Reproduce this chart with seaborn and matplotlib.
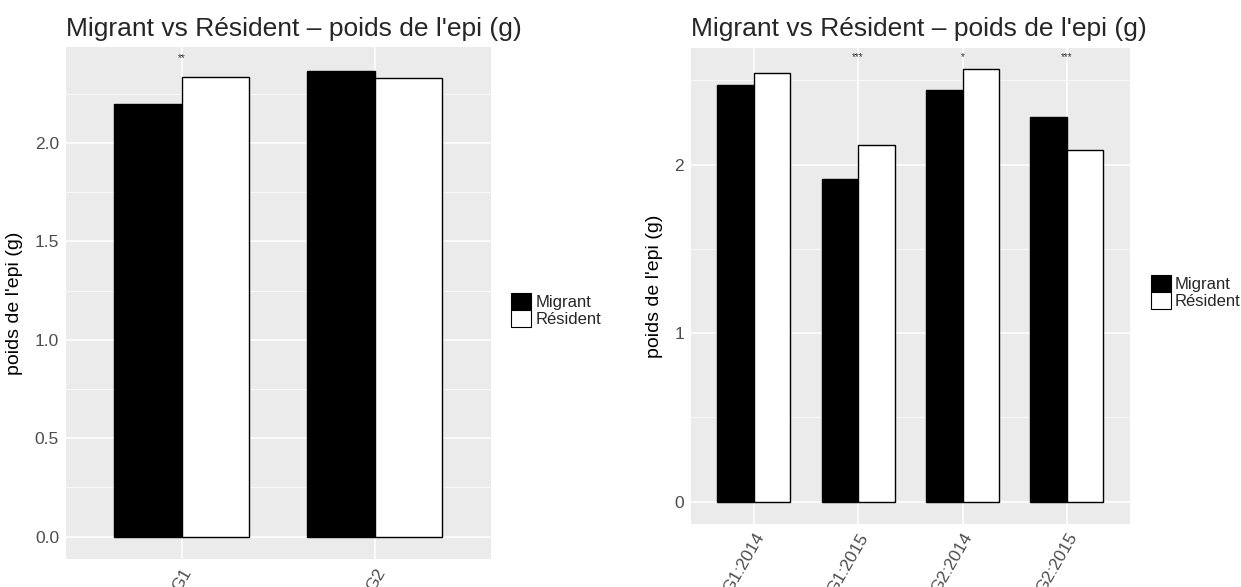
import numpy as np
import pandas as pd
import matplotlib
matplotlib.use("Agg")
import matplotlib.pyplot as plt
import seaborn as sns
from matplotlib.patches import Patch
from matplotlib.ticker import MultipleLocator

# ---- data ----
groups_left = ["G1", "G2"]
migrant_left = [2.200, 2.368]
resident_left = [2.334, 2.332]
signif_left = ["**", ""]

groups_right = ["G1:2014", "G1:2015", "G2:2014", "G2:2015"]
migrant_right = [2.472, 1.914, 2.441, 2.282]
resident_right = [2.542, 2.116, 2.565, 2.087]
signif_right = ["", "***", "*", "***"]

types = ["Migrant", "Résident"]
title = "Migrant vs Résident \u2013 poids de l'epi (g)"
ylabel = "poids de l'epi (g)"

sns.set_theme(style="darkgrid", rc={
    "axes.facecolor": "#EBEBEB",
    "grid.color": "white",
    "axes.edgecolor": "none",
})
plt.rcParams["font.family"] = ["Liberation Sans", "DejaVu Sans"]

W, H = 1241, 587
fig = plt.figure(figsize=(W / 100, H / 100), dpi=100)


def px_axes(x0, y0, x1, y1):
    return fig.add_axes([x0 / W, 1 - y1 / H, (x1 - x0) / W, (y1 - y0) / H])


def draw(ax, groups, mig, res, sig, ylim, major, minor, fmt, sig_y, ylab_x):
    df = pd.DataFrame({
        "group": groups * 2,
        "type": [types[0]] * len(groups) + [types[1]] * len(groups),
        "value": list(mig) + list(res),
    })
    sns.barplot(data=df, x="group", y="value", hue="type", hue_order=types,
                palette=["black", "white"], edgecolor="black", linewidth=1.0,
                width=0.7, gap=0, ax=ax, legend=False, saturation=1,
                errorbar=None)
    n = len(groups)
    ax.set_xlim(-0.6, n - 1 + 0.6)
    ax.set_ylim(*ylim)
    ax.yaxis.set_major_locator(MultipleLocator(major))
    ax.yaxis.set_minor_locator(MultipleLocator(minor))
    ax.yaxis.set_major_formatter(plt.FormatStrFormatter(fmt))
    ax.grid(True, which="major", color="white", linewidth=1.1)
    ax.grid(True, which="minor", axis="y", color="white", linewidth=0.5)
    ax.set_axisbelow(True)
    for s in ax.spines.values():
        s.set_visible(False)
    ax.tick_params(axis="both", which="major", length=3, width=0.8,
                   color="#333333", labelcolor="#4D4D4D", labelsize=12.5, pad=2)
    ax.tick_params(axis="y", which="minor", length=0)
    ax.set_xlabel("")
    ax.set_ylabel(ylabel, fontsize=14, color="black")
    ax.yaxis.set_label_coords(ylab_x, 0.5)
    for lab in ax.get_xticklabels():
        lab.set_rotation(60)
        lab.set_ha("right")
        lab.set_va("top")
        lab.set_rotation_mode("anchor")
    for i, s in enumerate(sig):
        if s:
            ax.text(i, sig_y, s, ha="center", va="center", fontsize=7,
                    color="#333333")


L = (66, 46.7, 490.7, 559.3)
axL = px_axes(*L)
draw(axL, groups_left, migrant_left, resident_left, signif_left,
     (-0.115, 2.489), 0.5, 0.25, "%.1f", 2.43, (23 - L[0]) / (L[2] - L[0]))

R = (691, 48, 1129.6, 523.7)
axR = px_axes(*R)
draw(axR, groups_right, migrant_right, resident_right, signif_right,
     (-0.1305, 2.692), 1, 0.5, "%d", 2.64, (663 - R[0]) / (R[2] - R[0]))

fig.text(66 / W, 1 - 36 / H, title, fontsize=19, va="baseline", ha="left")
fig.text(691 / W, 1 - 36 / H, title, fontsize=19, va="baseline", ha="left")

handles = [Patch(facecolor="black", edgecolor="black", linewidth=0.8),
           Patch(facecolor="white", edgecolor="black", linewidth=0.8)]
for (lx, ly) in [(511, 293), (1150.7, 275)]:
    fig.legend(handles, types, loc="upper left",
               bbox_to_anchor=(lx / W, 1 - ly / H), frameon=False,
               fontsize=12, handlelength=1.2, handleheight=1.2,
               labelspacing=0.0, handletextpad=0.25, borderpad=0,
               borderaxespad=0)

fig.savefig("out.png", dpi=100)
